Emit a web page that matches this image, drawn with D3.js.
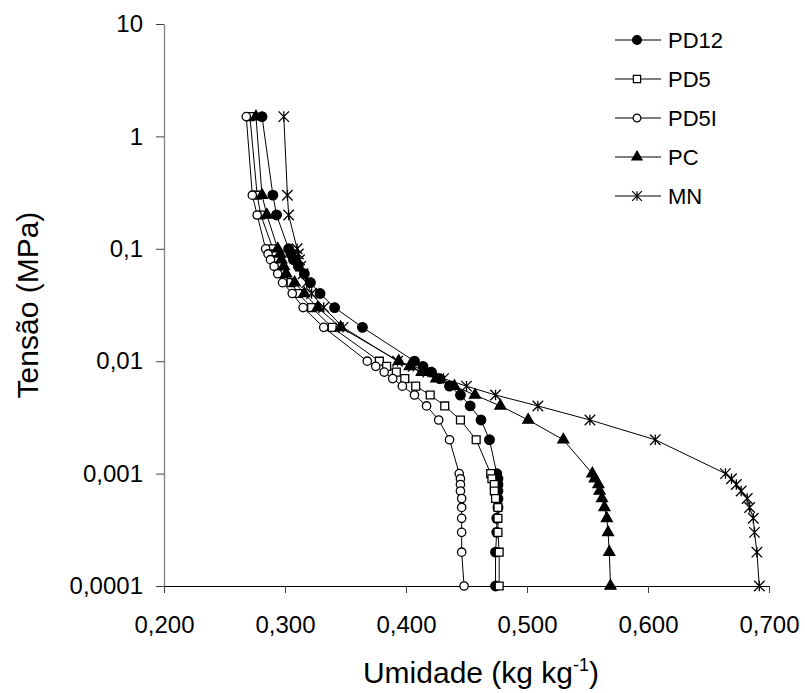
<!DOCTYPE html>
<html>
<head>
<meta charset="utf-8">
<script src="https://cdn.jsdelivr.net/npm/d3@7"></script>
<style>
    body { margin: 0; background: #fff; }
    svg { font-family: "Liberation Sans", Arial, sans-serif; }
</style>
</head>
<body>
<svg id="chart" width="805" height="693"></svg>
<script>
// tension levels (MPa)
var tensions = [1.5, 0.3, 0.2, 0.1, 0.09, 0.08, 0.07, 0.06, 0.05, 0.04, 0.03, 0.02,
    0.01, 0.009, 0.008, 0.007, 0.006, 0.005, 0.004, 0.003, 0.002,
    0.001, 0.0009, 0.0008, 0.0007, 0.0006, 0.0005, 0.0004, 0.0003, 0.0002, 0.0001];

// moisture (kg kg-1) for each series, same order as tensions
var pd12 = [0.281, 0.290, 0.293, 0.303, 0.305, 0.307, 0.311, 0.316, 0.321, 0.329, 0.341, 0.364,
    0.407, 0.414, 0.421, 0.428, 0.436, 0.445, 0.453, 0.462, 0.469,
    0.475, 0.476, 0.476, 0.476, 0.476, 0.476, 0.475, 0.475, 0.474, 0.474];
var pd5 = [0.271, 0.277, 0.280, 0.290, 0.292, 0.294, 0.296, 0.299, 0.305, 0.311, 0.322, 0.339,
    0.378, 0.384, 0.392, 0.399, 0.408, 0.420, 0.432, 0.445, 0.458,
    0.470, 0.471, 0.473, 0.473, 0.474, 0.476, 0.476, 0.476, 0.477, 0.477];
var pd5i = [0.268, 0.273, 0.277, 0.284, 0.286, 0.288, 0.291, 0.294, 0.298, 0.306, 0.315, 0.332,
    0.368, 0.375, 0.382, 0.389, 0.397, 0.407, 0.417, 0.427, 0.436,
    0.444, 0.445, 0.445, 0.445, 0.446, 0.446, 0.446, 0.446, 0.446, 0.448];
var pc = [0.276, 0.281, 0.285, 0.294, 0.296, 0.297, 0.299, 0.301, 0.308, 0.316, 0.327, 0.346,
    0.394, 0.403, 0.413, 0.425, 0.440, 0.457, 0.478, 0.501, 0.530,
    0.554, 0.556, 0.559, 0.560, 0.562, 0.564, 0.566, 0.567, 0.568, 0.569];
var mn = [0.299, 0.302, 0.303, 0.310, 0.311, 0.312, 0.313, 0.315, 0.318, 0.322, 0.332, 0.348,
    0.393, 0.406, 0.418, 0.431, 0.450, 0.474, 0.509, 0.552, 0.606,
    0.664, 0.669, 0.673, 0.677, 0.682, 0.684, 0.687, 0.688, 0.690, 0.692];

var seriesNames = ['PD12', 'PD5', 'PD5I', 'PC', 'MN'];
var seriesValues = [pd12, pd5, pd5i, pc, mn];
var xTicks = [0.2, 0.3, 0.4, 0.5, 0.6, 0.7];
var yTicks = [10, 1, 0.1, 0.01, 0.001, 0.0001];

// Excel style star marker: X plus a vertical bar
var symbolStar = {
    draw: function(ctx, size) {
        var r = Math.sqrt(size) * 0.5;
        ctx.moveTo(0, -r); ctx.lineTo(0, r);
        ctx.moveTo(-r, -r); ctx.lineTo(r, r);
        ctx.moveTo(-r, r); ctx.lineTo(r, -r);
    }
};

var styles = {
    PD12: { type: d3.symbolCircle, size: 72, fill: '#000' },
    PD5:  { type: d3.symbolSquare, size: 62, fill: '#fff' },
    PD5I: { type: d3.symbolCircle, size: 55, fill: '#fff' },
    PC:   { type: d3.symbolTriangle, size: 52, fill: '#000' },
    MN:   { type: symbolStar, size: 110, fill: 'none' }
};

var series = seriesNames.map(function(name, i) {
    return {
        name: name,
        points: tensions.map(function(t, j) { return { t: t, u: seriesValues[i][j] }; })
    };
});

var svg = d3.select('#chart');

var x = d3.scaleLinear().domain([0.2, 0.7]).range([164, 769]);
var y = d3.scaleLog().domain([0.0001, 10]).range([586, 24]);

var loc = d3.formatLocale({ decimal: ',', thousands: '.', grouping: [3], currency: ['', ''] });

var xAxis = d3.axisBottom(x)
    .tickValues(xTicks)
    .tickSize(7)
    .tickSizeOuter(0)
    .tickPadding(23)
    .tickFormat(loc.format('.3f'));

var yAxis = d3.axisLeft(y)
    .tickValues(yTicks)
    .tickSize(8)
    .tickSizeOuter(0)
    .tickPadding(13)
    .tickFormat(loc.format('~g'));

var gy = svg.append('g')
    .attr('transform', 'translate(164,0)')
    .call(yAxis);
gy.select('.domain').attr('stroke', '#808080').attr('stroke-width', 1.3);
gy.selectAll('.tick line').attr('stroke', '#404040');

var gx = svg.append('g')
    .attr('transform', 'translate(0,586)')
    .call(xAxis);
gx.select('.domain').attr('stroke', '#000').attr('stroke-width', 1.2);
gx.selectAll('.tick line').attr('stroke', '#404040');

svg.selectAll('.tick text')
    .attr('fill', '#000')
    .style('font-family', '"Liberation Sans", Arial, sans-serif')
    .style('font-size', '24px');

// axis titles
svg.append('text')
    .attr('transform', 'translate(38,305) rotate(-90)')
    .attr('text-anchor', 'middle')
    .style('font-size', '30px')
    .text('Tensão (MPa)');

var xt = svg.append('text')
    .attr('x', 481)
    .attr('y', 683)
    .attr('text-anchor', 'middle')
    .style('font-size', '30px');
xt.append('tspan').text('Umidade (kg kg');
xt.append('tspan').attr('dy', -12).style('font-size', '18px').text('-1');
xt.append('tspan').attr('dy', 12).text(')');

var line = d3.line()
    .x(function(d) { return x(d.u); })
    .y(function(d) { return y(d.t); });

var sg = svg.selectAll('.series')
    .data(series)
    .enter()
    .append('g')
    .attr('class', 'series');

sg.append('path')
    .attr('d', function(d) { return line(d.points); })
    .attr('fill', 'none')
    .attr('stroke', '#000')
    .attr('stroke-width', 1);

sg.each(function(s) {
    var st = styles[s.name];
    d3.select(this).selectAll('.pt')
        .data(s.points)
        .enter()
        .append('path')
        .attr('class', 'pt')
        .attr('transform', function(d) { return 'translate(' + x(d.u) + ',' + y(d.t) + ')'; })
        .attr('d', d3.symbol().type(st.type).size(st.size))
        .attr('fill', st.fill)
        .attr('stroke', '#000')
        .attr('stroke-width', 1.3);
});

// legend
var legend = svg.selectAll('.legend')
    .data(seriesNames)
    .enter()
    .append('g')
    .attr('class', 'legend')
    .attr('transform', function(d, i) { return 'translate(615,' + (40 + i * 39) + ')'; });

legend.append('line')
    .attr('x1', 0).attr('x2', 46)
    .attr('stroke', '#000')
    .attr('stroke-width', 1);

legend.append('path')
    .attr('transform', 'translate(22,0)')
    .attr('d', function(d) { return d3.symbol().type(styles[d].type).size(styles[d].size * 0.85)(); })
    .attr('fill', function(d) { return styles[d].fill; })
    .attr('stroke', '#000')
    .attr('stroke-width', 1.2);

legend.append('text')
    .attr('x', 53)
    .attr('y', 8)
    .style('font-size', '22px')
    .text(function(d) { return d; });
</script>
</body>
</html>
